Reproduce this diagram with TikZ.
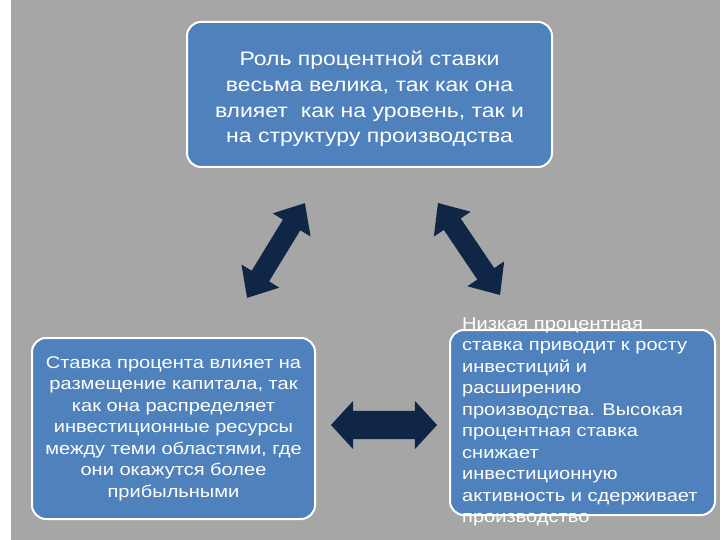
\documentclass[tikz,border=0pt]{standalone}
\usepackage{fontspec}
\setmainfont{Liberation Sans}
\newfontfamily\widesans[FakeStretch=1.18]{Liberation Sans}
\usetikzlibrary{shapes.arrows}
\definecolor{bg}{HTML}{A6A6A6}
\definecolor{boxblue}{HTML}{4F81BD}
\definecolor{navy}{HTML}{0F2647}
\begin{document}
\begin{tikzpicture}[x=1pt,y=-1pt,
  box/.style={draw=white, line width=2pt, fill=boxblue, rounded corners=14pt, inner sep=0pt},
  txt/.style={text=white, font=\widesans\fontsize{17}{21.5}\selectfont, inner sep=0pt},
  dbl/.style={double arrow, fill=navy, draw=none, inner xsep=0pt, inner ysep=10pt,
    double arrow head extend=12pt, double arrow tip angle=82, minimum height=111pt}
]
\useasboundingbox (0,0) rectangle (720,540);
\fill[bg] (0,0) rectangle (720,540);
\fill[white] (0,0) rectangle (11,540);

\node[box, minimum width=365pt, minimum height=145pt] (top) at (369.5,94.5) {};
\node[text=white, inner sep=0pt, align=center,
  font=\widesans\fontsize{19.5}{25.7}\selectfont] (ttext) at (369.5,99)
  {Роль процентной ставки\\весьма велика, так как она\\влияет\ \ как на уровень, так и\\на структуру производства};

\node[box, minimum width=283pt, minimum height=181pt, txt, align=center] (left) at (173.5,428.5)
  {Ставка процента влияет на\\размещение капитала, так\\как она распределяет\\инвестиционные ресурсы\\между теми областями, где\\они окажутся более\\прибыльными};

\node[box, minimum width=265pt, minimum height=185pt] (right) at (582.5,422.5) {};
\node[txt, align=left, anchor=west] (rtext) at (462,422)
  {Низкая процентная\\ставка приводит к росту\\инвестиций и\\расширению\\производства. Высокая\\процентная ставка\\снижает\\инвестиционную\\активность и сдерживает\\производство};

\node[dbl, rotate=58.6] (arrL) at (276,250.5) {};
\node[dbl, rotate=-56] (arrR) at (469,249) {};
\node[dbl, inner ysep=14pt, double arrow head extend=10pt, double arrow tip angle=95,
  minimum height=106pt] (arrH) at (384,425) {};
\end{tikzpicture}
\end{document}
